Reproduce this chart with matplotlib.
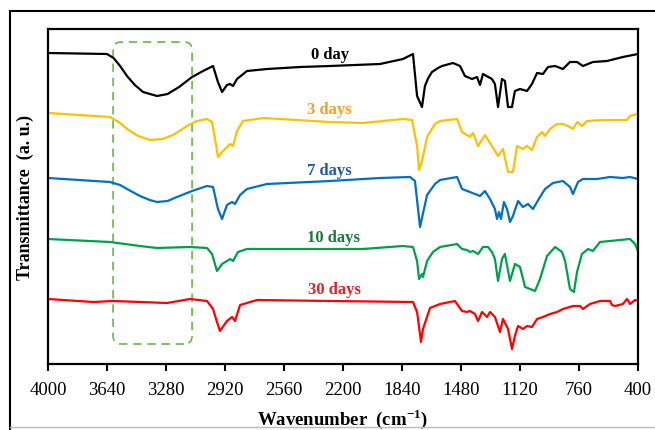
import numpy as np
import matplotlib.pyplot as plt
from matplotlib.patches import FancyBboxPatch
from matplotlib.lines import Line2D

plt.rcParams['font.family'] = ['Liberation Serif', 'DejaVu Serif']

# FTIR spectra (wavenumber in cm-1, transmittance in a.u., offset stacked)
wn_0 = [4000, 3640, 3600, 3560, 3518, 3470, 3420, 3335, 3270, 3200,
        3121, 3054, 2993,
        2963, 2938, 2908, 2889, 2871, 2847, 2786, 2664, 2462, 2279,
        1974, 1834, 1773, 1748, 1718, 1700, 1680, 1657, 1620, 1596, 1529, 1486,
        1456, 1413, 1382, 1364, 1346, 1291, 1273, 1254, 1230, 1212,
        1193, 1169, 1151, 1120, 1077, 1047, 1016, 980, 949, 906,
        858, 815, 772, 736, 675, 589, 492, 400]
t_0 = [311, 310, 306, 298, 288, 279, 272, 268, 270, 277,
       287, 293, 298,
       282, 272, 279, 280, 278, 285, 293, 295, 297, 298,
       300, 305, 310, 268, 257, 278, 286, 292, 296, 298, 301, 298,
       288, 285, 287, 279, 290, 285, 280, 257, 285, 283,
       257, 257, 273, 275, 273, 280, 291, 290, 297, 298,
       295, 302, 302, 298, 302, 303, 307, 310]

wn_3 = [4000, 3622, 3560, 3518, 3450, 3378, 3300, 3237, 3152, 3091, 3030, 2999, 2981,
        2963, 2932, 2889, 2871, 2847, 2810, 2688, 2279, 2078, 1834,
        1779, 1748, 1736, 1718, 1687, 1639, 1608, 1504, 1474, 1425,
        1407, 1376, 1334, 1291, 1254, 1224, 1193, 1163, 1138, 1102,
        1077, 1047, 1016, 986, 967, 937, 894, 858, 815, 797,
        772, 742, 711, 614, 467, 449, 400]
t_3 = [251, 247, 241, 235, 228, 224, 225, 229, 238, 243, 245, 242, 225,
       207, 213, 220, 218, 233, 243, 246, 242, 241, 245,
       244, 218, 194, 203, 227, 240, 243, 245, 232, 227,
       231, 218, 229, 218, 208, 215, 192, 192, 218, 215,
       218, 214, 227, 232, 228, 235, 240, 240, 237, 235,
       242, 238, 243, 244, 244, 248, 250]

wn_7 = [4000, 3622, 3560, 3518, 3439, 3380, 3335, 3270, 3213, 3121, 3030, 2993, 2963,
        2938, 2908, 2877, 2859, 2828, 2786, 2664, 2279, 1974, 1791,
        1761, 1730, 1706, 1687, 1639, 1608, 1504, 1474, 1425, 1364,
        1334, 1303, 1273, 1260, 1248, 1236, 1218, 1199, 1181, 1163,
        1132, 1102, 1071, 1041, 998, 967, 919, 858, 815, 797,
        766, 736, 650, 571, 492, 449, 400]
t_7 = [186, 182, 179, 175, 168, 164, 162, 163, 167, 173, 178, 177, 155,
       145, 159, 162, 160, 169, 175, 180, 183, 186, 187,
       183, 137, 155, 169, 180, 184, 187, 175, 172, 168,
       173, 165, 155, 145, 152, 145, 162, 155, 142, 148,
       163, 157, 160, 155, 167, 175, 181, 183, 177, 170,
       182, 185, 185, 187, 186, 187, 185]

wn_10 = [4000, 3622, 3439, 3335, 3134, 3030, 2999, 2969, 2938, 2889,
         2871, 2841, 2786, 2481, 2078, 1834, 1773, 1748, 1736, 1718,
         1712, 1687, 1651, 1608, 1504, 1474, 1443, 1425, 1407, 1376,
         1346, 1315, 1291, 1273, 1254, 1230, 1212, 1181, 1151, 1120,
         1089, 1059, 1028, 998, 955, 906, 864, 845, 815, 791,
         772, 742, 705, 675, 632, 449, 418, 400]
t_10 = [125, 122, 118, 116, 117, 116, 110, 93, 100, 105,
        103, 112, 115, 115, 115, 118, 117, 103, 85, 90,
        87, 103, 112, 117, 120, 115, 114, 112, 113, 110,
        117, 117, 112, 105, 83, 105, 110, 83, 100, 97,
        77, 75, 73, 85, 108, 117, 112, 103, 75, 72,
        92, 110, 115, 113, 122, 125, 120, 113]

wn_30 = [4000, 3725, 3603, 3439, 3274, 3134, 3030, 2993, 2969, 2951,
         2908, 2877, 2859, 2828, 2725, 2279, 1773, 1748, 1724, 1712,
         1669, 1608, 1517, 1474, 1443, 1425, 1395, 1376, 1352, 1321,
         1303, 1273, 1242, 1224, 1193, 1169, 1151, 1132, 1102, 1077,
         1047, 1016, 980, 937, 894, 858, 797, 754, 736, 693,
         632, 571, 559, 540, 492, 467, 449, 418, 400]
t_30 = [65, 62, 63, 62, 61, 65, 63, 55, 42, 33,
        43, 47, 43, 59, 64, 63, 62, 52, 22, 35,
        56, 60, 63, 53, 52, 53, 50, 43, 52, 47,
        52, 47, 32, 45, 35, 15, 28, 38, 35, 38,
        37, 45, 47, 50, 52, 55, 58, 58, 55, 60,
        63, 63, 59, 58, 60, 65, 60, 64, 63]

labels = ['0 day', '3 days', '7 days', '10 days', '30 days']
line_colors = ['#000000', '#ffc000', '#0070c0', '#00a04a', '#ff0000']
text_colors = ['#000000', '#f2a02a', '#1f5aa6', '#187a3a', '#e0202a']
label_x = [2279, 2285, 2285, 2261, 2255]
label_y = [310, 255, 194, 127, 75]

series = [(wn_0, t_0), (wn_3, t_3), (wn_7, t_7), (wn_10, t_10), (wn_30, t_30)]
ticks = [4000, 3640, 3280, 2920, 2560, 2200, 1840, 1480, 1120, 760, 400]

fig = plt.figure(figsize=(6.55, 4.31), dpi=100)
ax = fig.add_axes([48/655, 1-365/431, 590/655, 335/431])

for (wn, t), c in zip(series, line_colors):
    ax.plot(wn, t, color=c, lw=1.6, solid_joinstyle='round')

for lab, c, x, y in zip(labels, text_colors, label_x, label_y):
    ax.text(x, y, lab, color=c, fontsize=12, fontweight='bold',
            ha='center', va='center')

# dashed highlight box around the O-H band
box = FancyBboxPatch((3121, 20), 3603-3121, 302,
                     boxstyle='round,pad=0,rounding_size=49',
                     mutation_aspect=0.163, fill=False,
                     edgecolor='#66b944', lw=1.2, linestyle=(0, (5, 3.5)))
ax.add_patch(box)

ax.set_xlim(4000, 400)
ax.set_ylim(0, 335)
ax.set_xticks(ticks)
ax.set_xticklabels([str(v) for v in ticks], fontsize=13.5)
ax.set_yticks([])
ax.tick_params(axis='x', direction='out', length=5, width=1.5, pad=7)
for s in ax.spines.values():
    s.set_linewidth(1.6)

ax.set_xlabel('Wavenumber  (cm$^{\\mathregular{-1}}$)', fontsize=13.5,
              fontweight='bold', labelpad=6)
ax.set_ylabel('Transmittance  (a. u.)', fontsize=13, fontweight='bold',
              labelpad=10)

# outer frame of the original figure
fig.add_artist(Line2D([10/655, 1], [1-12/431, 1-12/431], color='black', lw=1.5))
fig.add_artist(Line2D([10/655, 10/655], [1-12/431, 0], color='black', lw=1.5))
fig.add_artist(Line2D([10/655, 1], [3/431, 3/431], color='#bbbbbb', lw=1.0))

fig.savefig('out.png', dpi=100)
